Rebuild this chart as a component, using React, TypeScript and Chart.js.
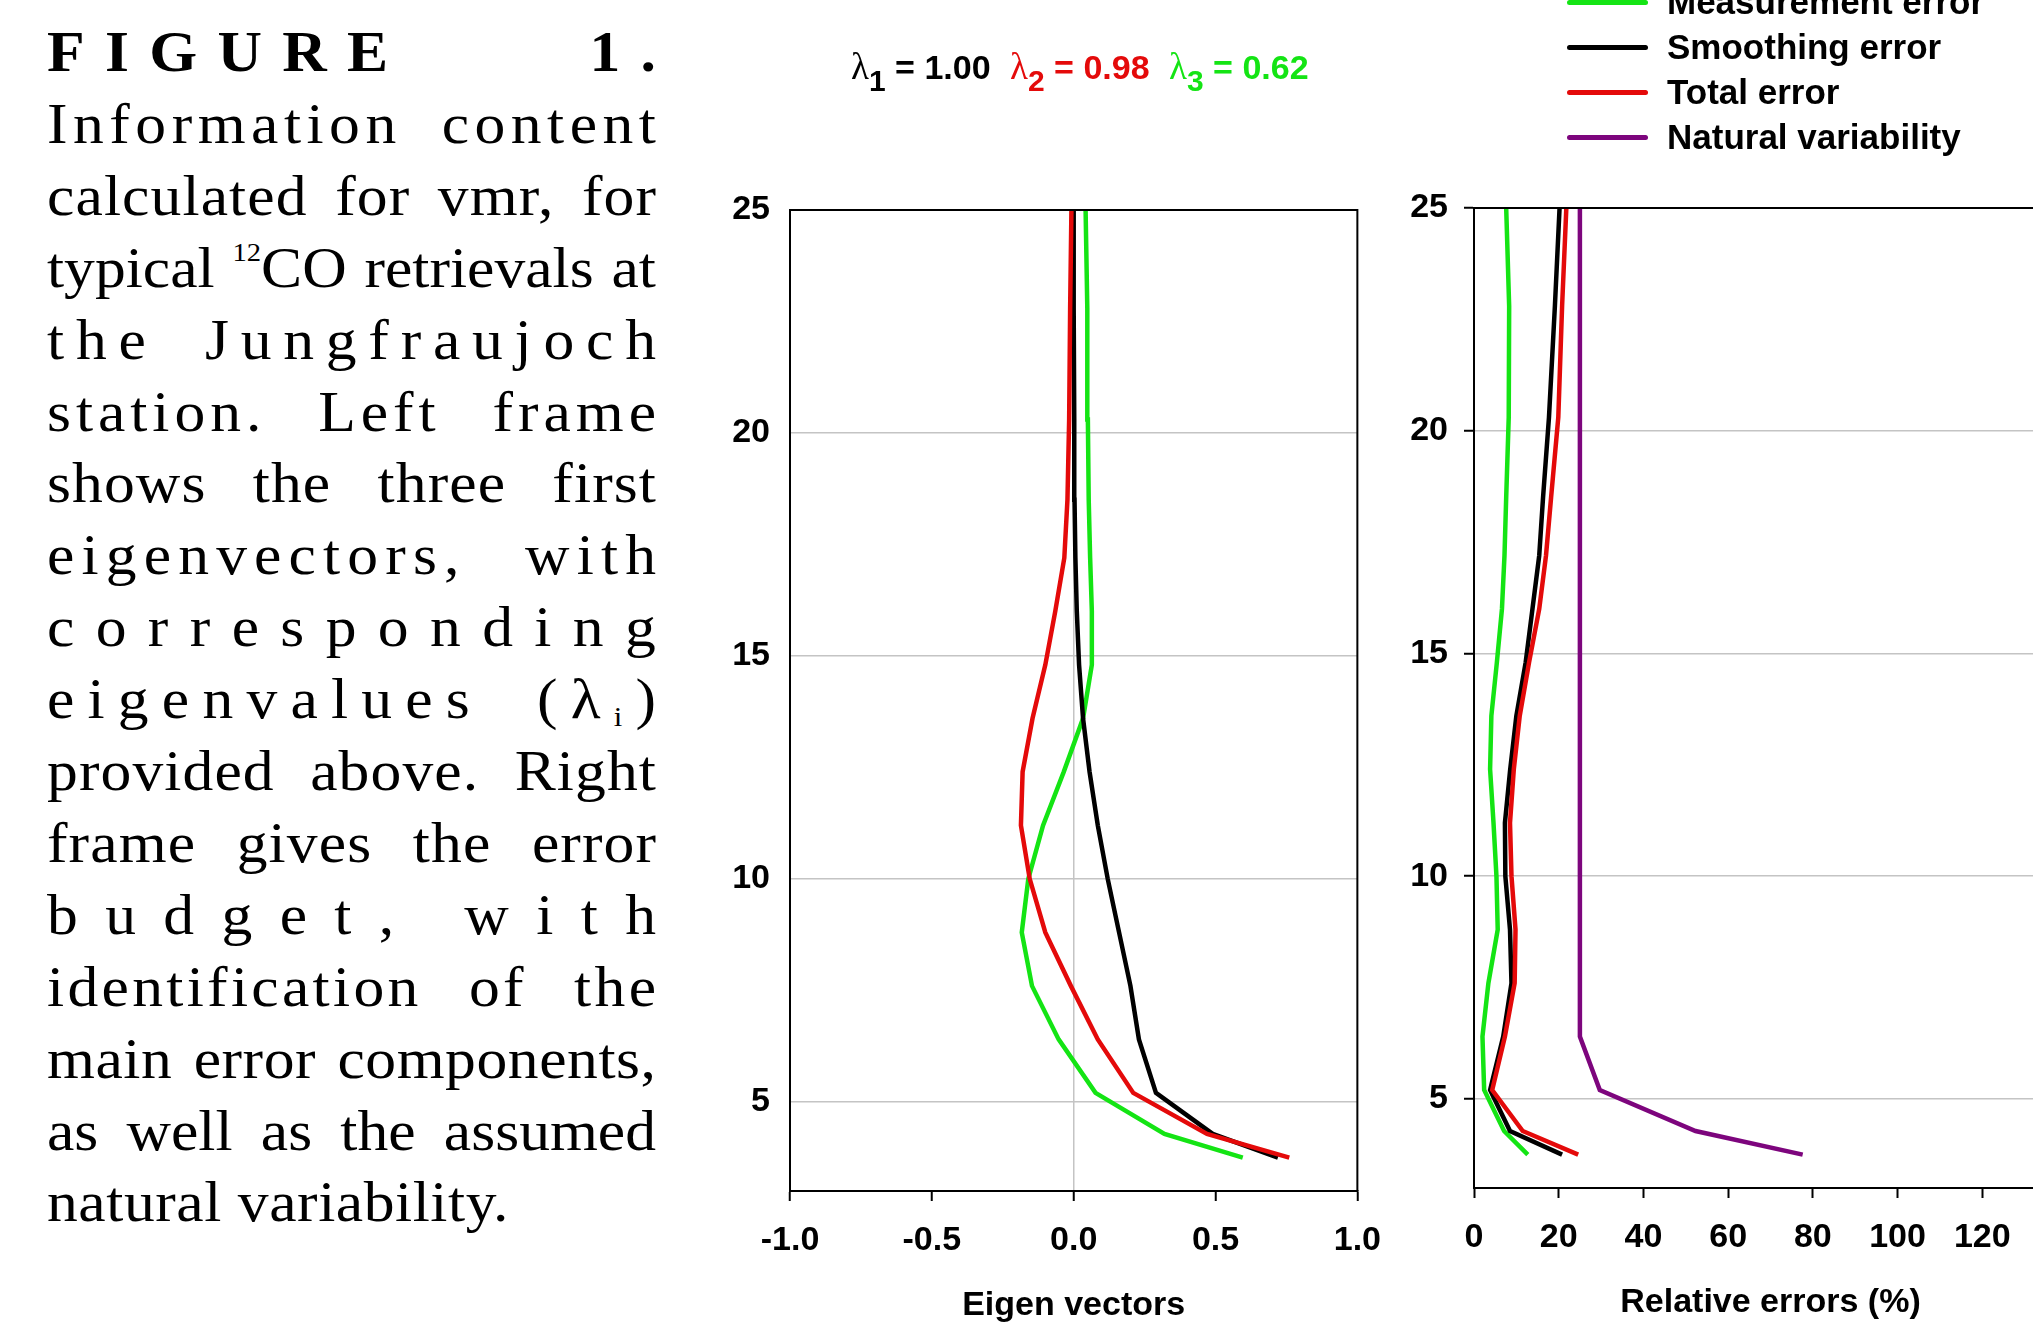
import React, { useEffect, useRef } from "react";
import { Chart, registerables } from "chart.js";

Chart.register(...registerables);

// ---------- data ----------
const ALTITUDES = [3.75, 4.28, 5.2, 6.4, 7.6, 8.8, 10.0, 11.2, 12.4, 13.6, 14.8, 16.0, 17.2, 18.5, 20.3, 22.8, 25.0];

const EIGEN_1 = [0.72, 0.49, 0.29, 0.23, 0.2, 0.16, 0.12, 0.085, 0.056, 0.033, 0.019, 0.011, 0.006, 0.003, 0.002, 0.0, 0.0];
const EIGEN_2 = [0.76, 0.47, 0.21, 0.085, -0.01, -0.1, -0.155, -0.186, -0.18, -0.145, -0.1, -0.065, -0.033, -0.022, -0.016, -0.0125, -0.008];
const EIGEN_3 = [0.596, 0.32, 0.077, -0.053, -0.147, -0.183, -0.16, -0.108, -0.035, 0.033, 0.064, 0.064, 0.058, 0.053, 0.05, 0.048, 0.042];

const MEASUREMENT_ERR = [12.7, 7.1, 2.4, 2.0, 3.4, 5.6, 5.3, 4.6, 3.8, 4.1, 5.4, 6.6, 7.2, 7.6, 8.2, 8.3, 7.6];
const SMOOTHING_ERR = [20.8, 8.5, 3.8, 6.9, 8.85, 8.5, 7.4, 7.3, 8.55, 10.0, 12.2, 13.8, 15.4, 16.3, 17.7, 19.1, 20.2];
const TOTAL_ERR = [24.6, 11.5, 4.3, 7.3, 9.6, 9.8, 8.85, 8.5, 9.4, 10.8, 13.0, 15.4, 17.0, 18.2, 19.9, 20.8, 21.8];
const NATURAL_VAR = [77.6, 52.3, 29.7, 25.0, 25.0, 25.0, 25.0, 25.0, 25.0, 25.0, 25.0, 25.0, 25.0, 25.0, 25.0, 25.0, 25.0];

const EIGENVALUES = ["1.00", "0.98", "0.62"];
const LEGEND_LABELS = ["Measurement error", "Smoothing error", "Total error", "Natural variability"];

// ---------- styles ----------
const BLACK = "#000000";
const RED = "rgb(228,10,10)";
const GREEN = "rgb(20,228,20)";
const PURPLE = "rgb(125,5,125)";
const GRID = "#c4c4c4";
const SANS = "'Liberation Sans', Arial, sans-serif";
const SERIF = "'Liberation Serif', 'Times New Roman', serif";

const pts = (xs: number[]) => xs.map((x, i) => ({ x, y: ALTITUDES[i] }));

const tickFont = { family: SANS, size: 34, weight: "bold" as const };
const titleFont = { family: SANS, size: 34, weight: "bold" as const };

const framePlugin = (top: boolean, right: boolean) => ({
  id: "frame",
  afterDraw(chart: any) {
    const { ctx, chartArea: a } = chart;
    ctx.save();
    ctx.strokeStyle = BLACK;
    ctx.lineWidth = 2;
    ctx.beginPath();
    if (top) {
      ctx.moveTo(a.left - 1, a.top);
      ctx.lineTo(a.right + 1, a.top);
    }
    if (right) {
      ctx.moveTo(a.right, a.top);
      ctx.lineTo(a.right, a.bottom);
    }
    ctx.stroke();
    ctx.restore();
  },
});

const ds = (label: string, xs: number[], color: string) => ({
  label,
  data: pts(xs),
  borderColor: color,
  backgroundColor: color,
  borderWidth: 4.5,
  pointRadius: 0,
  tension: 0,
  fill: false,
});

// ---------- caption ----------
type CapLine = { mode: "figure" | "justify" | "chars" | "left"; ls: number; content: any };

const CAPTION: CapLine[] = [
  { mode: "figure", ls: 0, content: "FIGURE 1." },
  { mode: "justify", ls: 5, content: "Information content" },
  { mode: "justify", ls: 1, content: "calculated for vmr, for" },
  {
    mode: "justify",
    ls: 0,
    content: (
      <>
        typical <span style={{ fontSize: 26, position: "relative", top: -26 }}>12</span>CO retrievals at
      </>
    ),
  },
  { mode: "justify", ls: 10.7, content: "the Jungfraujoch" },
  { mode: "justify", ls: 4.5, content: "station. Left frame" },
  { mode: "justify", ls: 1, content: "shows the three first" },
  { mode: "justify", ls: 6.5, content: "eigenvectors, with" },
  { mode: "chars", ls: 0, content: "corresponding" },
  {
    mode: "justify",
    ls: 12,
    content: (
      <>
        eigenvalues (λ<span style={{ fontSize: 28, position: "relative", top: 8 }}>i</span>)
      </>
    ),
  },
  { mode: "justify", ls: 1, content: "provided above. Right" },
  { mode: "justify", ls: 1, content: "frame gives the error" },
  { mode: "chars", ls: 0, content: "budget, with" },
  { mode: "justify", ls: 3, content: "identification of the" },
  { mode: "justify", ls: 0.5, content: "main error components," },
  { mode: "justify", ls: 0, content: "as well as the assumed" },
  { mode: "left", ls: 0.5, content: "natural variability." },
];

const CAP_LEFT = 47;
const CAP_WIDTH = 609;
const CAP_SCALE = 1.1;
const CAP_TOP = 17;
const CAP_LH = 71.9;

function CaptionLine({ line, index }: { line: CapLine; index: number }) {
  const inner = CAP_WIDTH / CAP_SCALE;
  const base: any = {
    position: "absolute",
    left: CAP_LEFT,
    top: CAP_TOP + index * CAP_LH,
    height: CAP_LH,
    lineHeight: `${CAP_LH}px`,
    fontFamily: SERIF,
    fontSize: 56,
    color: "#000",
    transform: `scaleX(${CAP_SCALE})`,
    transformOrigin: "0 0",
  };
  if (line.mode === "figure") {
    const letters = ["F", "I", "G", "U", "R", "E"];
    return (
      <div style={{ ...base, width: inner, display: "flex", justifyContent: "space-between", fontWeight: "bold" }}>
        {letters.map((c, i) => (
          <span key={i}>{c}</span>
        ))}
        <span style={{ width: 146 }} />
        <span>1</span>
        <span>.</span>
      </div>
    );
  }
  if (line.mode === "chars") {
    const chars = String(line.content).split("");
    return (
      <div style={{ ...base, width: inner, display: "flex", justifyContent: "space-between" }}>
        {chars.map((c, i) => (
          <span key={i}>{c === " " ? "\u00A0" : c}</span>
        ))}
      </div>
    );
  }
  const justify = line.mode === "justify";
  return (
    <div
      style={{
        ...base,
        width: inner + line.ls,
        letterSpacing: line.ls,
        textAlign: justify ? "justify" : "left",
        textAlignLast: justify ? "justify" : "left",
      }}
    >
      {line.content}
    </div>
  );
}

// ---------- charts ----------
export default function App() {
  const leftRef = useRef<HTMLCanvasElement | null>(null);
  const rightRef = useRef<HTMLCanvasElement | null>(null);

  useEffect(() => {
    const left = new Chart(leftRef.current as HTMLCanvasElement, {
      type: "line",
      data: {
        datasets: [ds("λ2", EIGEN_2, RED), ds("λ1", EIGEN_1, BLACK), ds("λ3", EIGEN_3, GREEN)],
      },
      options: {
        responsive: false,
        animation: false,
        devicePixelRatio: 1,
        layout: { autoPadding: false, padding: { left: 0, right: 41, top: 210, bottom: 0 } },
        plugins: { legend: { display: false }, tooltip: { enabled: false }, title: { display: false } },
        scales: {
          x: {
            type: "linear",
            min: -1,
            max: 1,
            ticks: {
              stepSize: 0.5,
              callback: (v: any) => Number(v).toFixed(1),
              font: tickFont,
              color: BLACK,
              padding: 19,
              maxRotation: 0,
            },
            grid: {
              color: (c: any) => (c.tick && Math.abs(c.tick.value) < 1e-9 ? GRID : "rgba(0,0,0,0)"),
              lineWidth: 1.5,
              drawTicks: true,
              tickLength: 10,
              tickColor: BLACK,
              tickWidth: 2,
            },
            border: { display: true, color: BLACK, width: 2 },
            title: { display: true, text: "Eigen vectors", font: titleFont, color: BLACK, padding: { top: 0, bottom: 11 } },
            afterFit: (s: any) => {
              s.height = 146;
            },
          },
          y: {
            type: "linear",
            min: 3,
            max: 25,
            ticks: { stepSize: 5, includeBounds: false, font: tickFont, color: BLACK, padding: 20 },
            grid: { color: GRID, lineWidth: 1.5, drawTicks: false },
            border: { display: true, color: BLACK, width: 2 },
            afterFit: (s: any) => {
              s.width = 90;
            },
          },
        },
      } as any,
      plugins: [framePlugin(true, true)],
    });

    const right = new Chart(rightRef.current as HTMLCanvasElement, {
      type: "line",
      data: {
        datasets: [
          ds(LEGEND_LABELS[2], TOTAL_ERR, RED),
          ds(LEGEND_LABELS[1], SMOOTHING_ERR, BLACK),
          ds(LEGEND_LABELS[0], MEASUREMENT_ERR, GREEN),
          ds(LEGEND_LABELS[3], NATURAL_VAR, PURPLE),
        ],
      },
      options: {
        responsive: false,
        animation: false,
        devicePixelRatio: 1,
        layout: { autoPadding: false, padding: { left: 0, right: 53, top: 208, bottom: 0 } },
        plugins: { legend: { display: false }, tooltip: { enabled: false }, title: { display: false } },
        scales: {
          x: {
            type: "linear",
            min: 0,
            max: 140,
            ticks: { stepSize: 20, font: tickFont, color: BLACK, padding: 19, maxRotation: 0 },
            grid: {
              color: "rgba(0,0,0,0)",
              drawTicks: true,
              tickLength: 10,
              tickColor: BLACK,
              tickWidth: 2,
            },
            border: { display: true, color: BLACK, width: 2 },
            title: {
              display: true,
              text: "Relative errors (%)",
              font: titleFont,
              color: BLACK,
              padding: { top: 0, bottom: 14 },
            },
            afterFit: (s: any) => {
              s.height = 149;
            },
          },
          y: {
            type: "linear",
            min: 3,
            max: 25,
            ticks: { stepSize: 5, includeBounds: false, font: tickFont, color: BLACK, padding: 16 },
            grid: { color: GRID, lineWidth: 1.5, drawTicks: true, tickLength: 10, tickColor: BLACK, tickWidth: 2 },
            border: { display: true, color: BLACK, width: 2 },
            afterFit: (s: any) => {
              s.width = 74;
            },
          },
        },
      } as any,
      plugins: [framePlugin(true, false)],
    });

    return () => {
      left.destroy();
      right.destroy();
    };
  }, []);

  const lambdaColors = [BLACK, RED, GREEN];
  const lambdaLeft = [851, 1010, 1169];
  const legendColors = [GREEN, BLACK, RED, PURPLE];
  const legendY = [2, 47, 92, 137];

  return (
    <div
      style={{
        position: "fixed",
        left: 0,
        top: 0,
        width: 2033,
        height: 1337,
        overflow: "hidden",
        background: "#ffffff",
      }}
    >
      {CAPTION.map((line, i) => (
        <CaptionLine key={i} line={line} index={i} />
      ))}

      <canvas ref={leftRef} width={700} height={1337} style={{ position: "absolute", left: 700, top: 0 }} />
      <canvas ref={rightRef} width={720} height={1337} style={{ position: "absolute", left: 1400, top: 0 }} />

      {EIGENVALUES.map((v, i) => (
        <div
          key={i}
          style={{
            position: "absolute",
            left: lambdaLeft[i],
            top: 47,
            height: 40,
            lineHeight: "40px",
            whiteSpace: "nowrap",
            color: lambdaColors[i],
            fontFamily: SANS,
            fontWeight: "bold",
            fontSize: 34,
          }}
        >
          <span style={{ fontFamily: SERIF, fontWeight: "normal", fontSize: 37 }}>λ</span>
          <span style={{ fontSize: 30, position: "relative", top: 12 }}>{i + 1}</span>
          <span> = {v}</span>
        </div>
      ))}

      {LEGEND_LABELS.map((label, i) => (
        <React.Fragment key={i}>
          <div
            style={{
              position: "absolute",
              left: 1567,
              top: legendY[i] - 2.5,
              width: 81,
              height: 5,
              borderRadius: 2.5,
              background: legendColors[i],
            }}
          />
          <div
            style={{
              position: "absolute",
              left: 1667,
              top: legendY[i] - 21,
              height: 42,
              lineHeight: "42px",
              whiteSpace: "nowrap",
              fontFamily: SANS,
              fontWeight: "bold",
              fontSize: 35,
              color: BLACK,
            }}
          >
            {label}
          </div>
        </React.Fragment>
      ))}
    </div>
  );
}
